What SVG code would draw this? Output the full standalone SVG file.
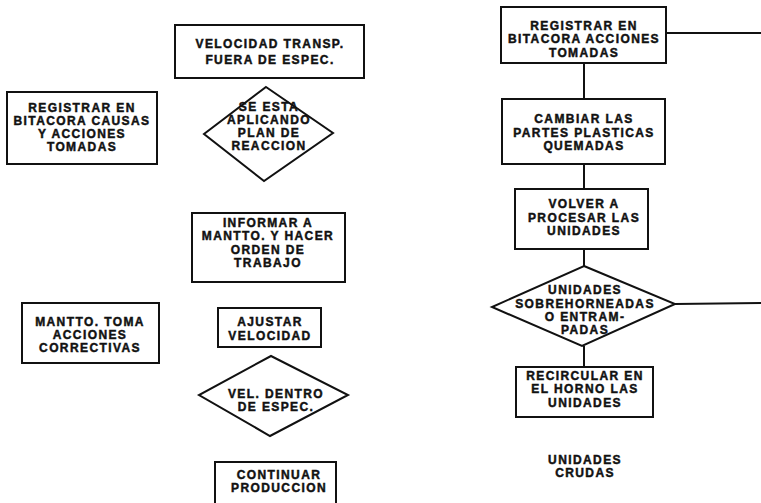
<svg xmlns="http://www.w3.org/2000/svg" width="761" height="503" viewBox="0 0 761 503">
<style>
.b{fill:#fff;stroke:#111;stroke-width:2}
.c{fill:none;stroke:#111;stroke-width:2}
text{font-family:"Liberation Sans",Arial,sans-serif;font-weight:bold;font-size:12px;letter-spacing:1.4px;fill:#111;stroke:#111;stroke-width:0.45;text-anchor:middle}
</style>
<rect width="761" height="503" fill="#fff"/>
<g id="connectors">
<line class="c" x1="666" y1="33" x2="761" y2="33"/>
<line class="c" x1="584" y1="63" x2="584" y2="99"/>
<line class="c" x1="584" y1="164" x2="584" y2="189"/>
<line class="c" x1="584" y1="249" x2="584" y2="266"/>
<line class="c" x1="675" y1="304" x2="761" y2="303"/>
<line class="c" x1="584" y1="346" x2="584" y2="367"/>
</g>
<g id="n1"><rect class="b" x="175" y="25" width="189" height="53"/>
<text x="270" y="48">VELOCIDAD TRANSP.</text><text x="270" y="64">FUERA DE ESPEC.</text></g>
<g id="n2"><rect class="b" x="7" y="92" width="150" height="72"/>
<text x="82" y="112">REGISTRAR EN</text><text x="82" y="125">BITACORA CAUSAS</text><text x="82" y="138">Y ACCIONES</text><text x="82" y="151">TOMADAS</text></g>
<g id="n3"><polygon class="b" points="266,87 333,133 264,181 204,134"/>
<text x="269" y="111">SE ESTA</text><text x="269" y="124">APLICANDO</text><text x="269" y="137">PLAN DE</text><text x="269" y="150">REACCION</text></g>
<g id="n4"><rect class="b" x="192" y="213" width="153" height="69"/>
<text x="268" y="227">INFORMAR A</text><text x="268" y="240">MANTTO. Y HACER</text><text x="268" y="254">ORDEN DE</text><text x="268" y="267">TRABAJO</text></g>
<g id="n5"><rect class="b" x="22" y="303" width="137" height="60"/>
<text x="90" y="326">MANTTO. TOMA</text><text x="90" y="339">ACCIONES</text><text x="90" y="352">CORRECTIVAS</text></g>
<g id="n6"><rect class="b" x="218" y="308" width="103" height="39"/>
<text x="270" y="326">AJUSTAR</text><text x="270" y="340">VELOCIDAD</text></g>
<g id="n7"><polygon class="b" points="271,356 348,395 270,436 199,395"/>
<text x="276" y="398">VEL. DENTRO</text><text x="276" y="411">DE ESPEC.</text></g>
<g id="n8"><rect class="b" x="215" y="462" width="121" height="45"/>
<text x="279" y="479">CONTINUAR</text><text x="279" y="492">PRODUCCION</text></g>
<g id="n9"><rect class="b" x="501" y="7" width="165" height="56"/>
<text x="584" y="30">REGISTRAR EN</text><text x="584" y="43">BITACORA ACCIONES</text><text x="584" y="57">TOMADAS</text></g>
<g id="n10"><rect class="b" x="502" y="99" width="163" height="65"/>
<text x="584" y="123">CAMBIAR LAS</text><text x="584" y="137">PARTES PLASTICAS</text><text x="584" y="150">QUEMADAS</text></g>
<g id="n11"><rect class="b" x="515" y="189" width="133" height="60"/>
<text x="584" y="208">VOLVER A</text><text x="584" y="222">PROCESAR LAS</text><text x="584" y="235">UNIDADES</text></g>
<g id="n12"><polygon class="b" points="584,266 675,304 582,346 492,307"/>
<text x="585" y="294">UNIDADES</text><text x="585" y="308">SOBREHORNEADAS</text><text x="585" y="321">O ENTRAM-</text><text x="585" y="334">PADAS</text></g>
<g id="n13"><rect class="b" x="516" y="367" width="137" height="50"/>
<text x="585" y="380">RECIRCULAR EN</text><text x="585" y="393">EL HORNO LAS</text><text x="585" y="407">UNIDADES</text></g>
<g id="n14"><text x="585" y="464">UNIDADES</text><text x="585" y="477">CRUDAS</text></g>
</svg>
